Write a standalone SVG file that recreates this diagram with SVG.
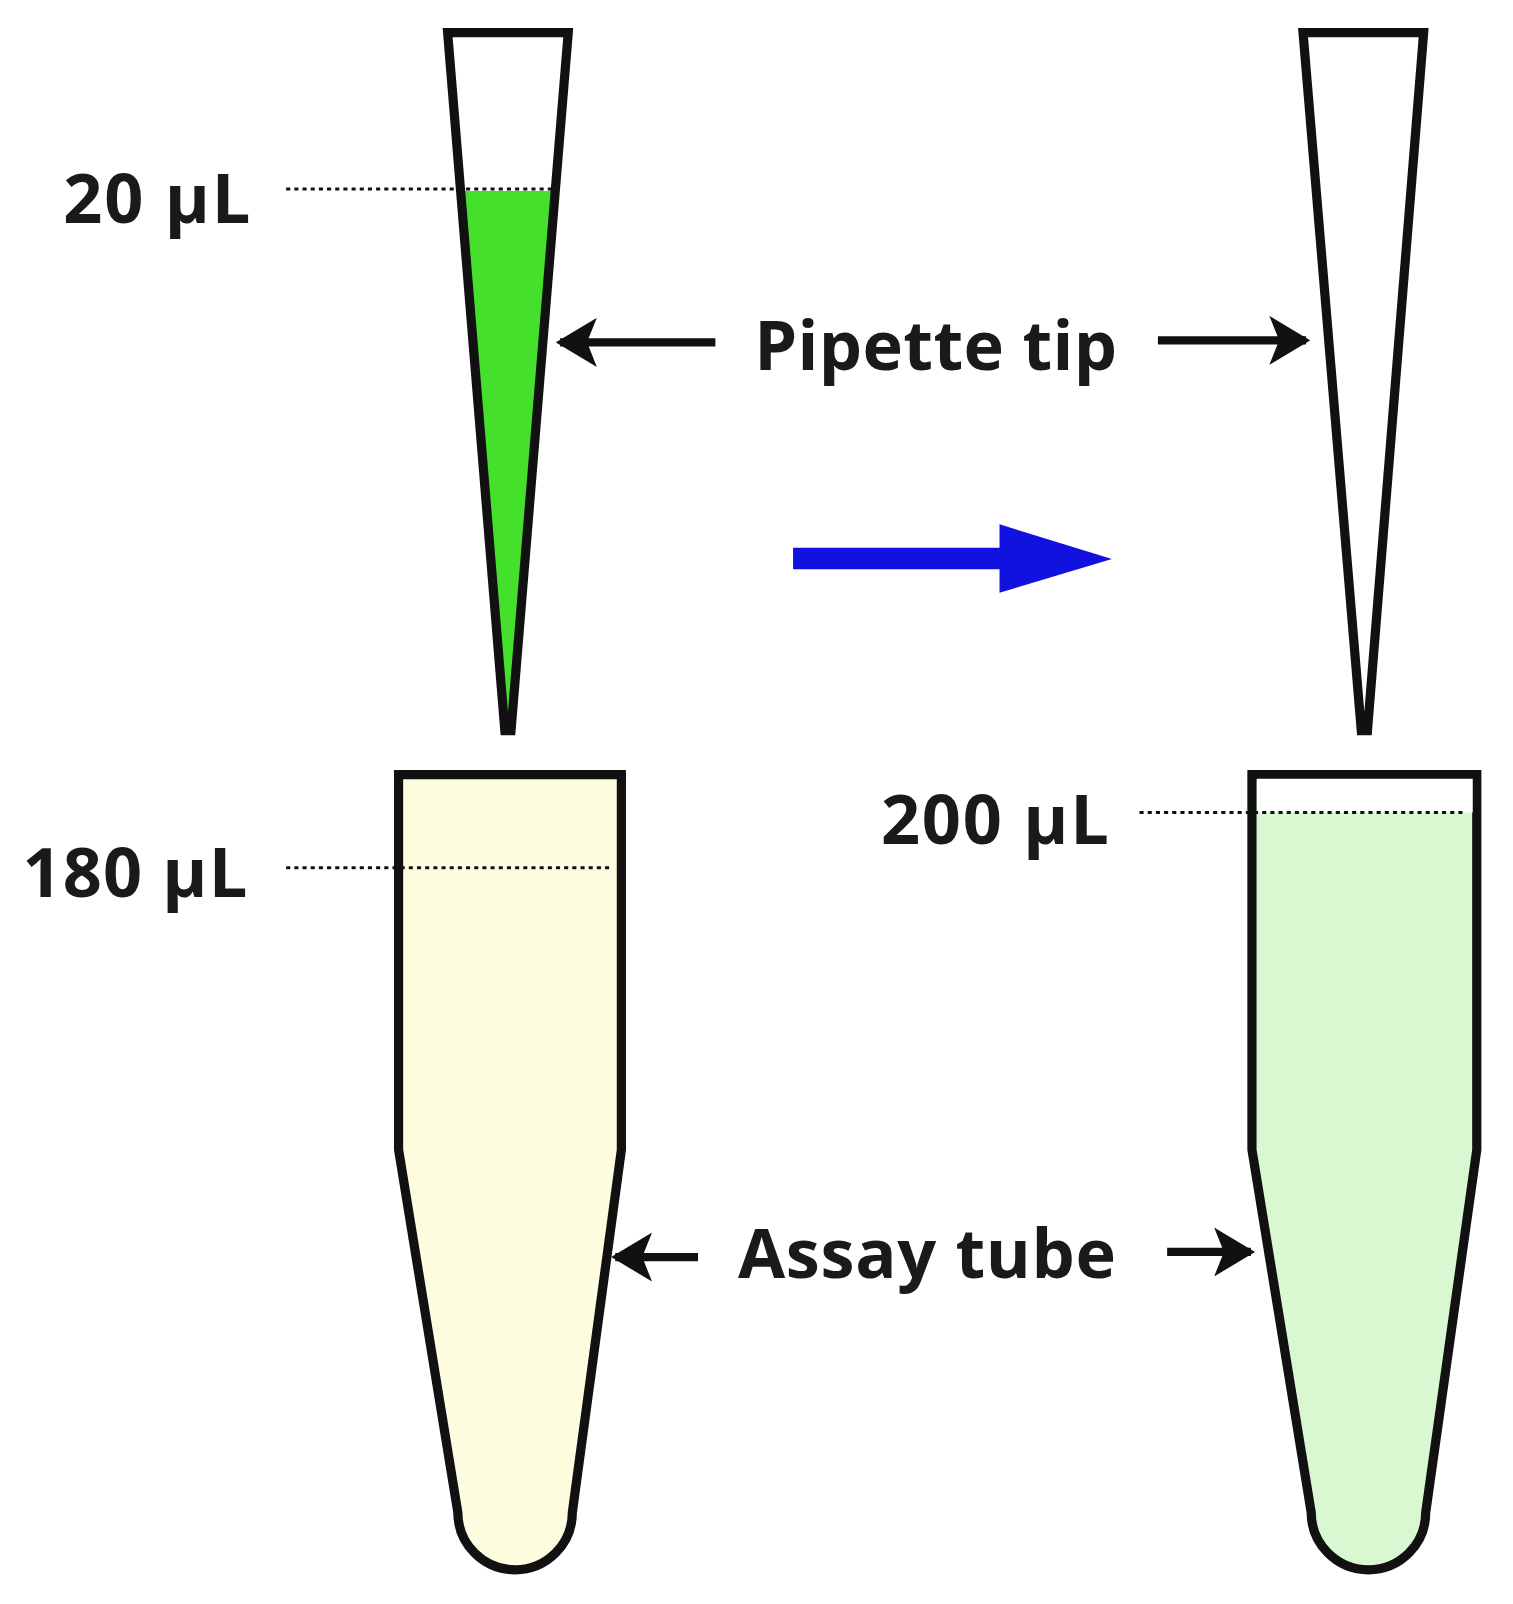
<svg xmlns="http://www.w3.org/2000/svg" width="1513" height="1604" viewBox="0 0 1513 1604">
<style>
.o{stroke:#111;stroke-width:9;stroke-linejoin:miter}
.d{stroke:#111;stroke-width:3;stroke-dasharray:4 4;fill:none}
.t{font-family:"Open Sans","Liberation Sans",sans-serif;font-weight:bold;font-size:67px;fill:#1a1a1a}
.a{stroke:#111;stroke-width:8;fill:none}
</style>
<defs>
<marker id="ah" markerWidth="5" markerHeight="6" refX="4.5" refY="3" orient="auto" markerUnits="strokeWidth">
<path d="M0,0 L5,3 L0,6 L1.2,3 Z" fill="#111"/>
</marker>
</defs>
<rect width="1513" height="1604" fill="#fff"/>
<g transform="scale(1.022)">
<g id="tip-left">
<polygon points="451,187 543,187 500,712 494,712" fill="#44e02c"/>
<polygon points="438,32 556,32 500,715 494,715" fill="none" class="o"/>
<line class="d" x1="280" y1="185" x2="540" y2="185"/>
<text class="t" x="62" y="218" textLength="183">20 µL</text>
</g>
<g id="tip-right">
<polygon class="o" points="1275,32 1393,32 1338,715 1332,715" fill="#fff"/>
</g>
<g id="tube-left">
<path class="o" fill="#fefde0" d="M390,758 H608 V1125 L560,1480 A54,54 0 0 1 448,1480 L390,1125 Z"/>
<line class="d" x1="280" y1="849" x2="598" y2="849"/>
<text class="t" x="22" y="878" textLength="220">180 µL</text>
</g>
<g id="tube-right">
<path class="o" fill="#d9f7d0" d="M1225,758 H1445 V1125 L1395,1480 A54,54 0 0 1 1283,1480 L1225,1125 Z"/>
<path d="M1230,762 H1441 V795 H1230 Z" fill="#fff"/>
<line class="d" x1="1115" y1="795" x2="1432" y2="795"/>
<text class="t" x="862" y="826" textLength="223">200 µL</text>
</g>
<g id="label-pipette"><text class="t" x="738" y="362" textLength="355">Pipette tip</text></g>
<g id="label-tube"><text class="t" x="722" y="1250" textLength="370">Assay tube</text></g>
<g id="connectors">
<line class="a" x1="700" y1="335" x2="548" y2="335" marker-end="url(#ah)"/>
<line class="a" x1="1133" y1="333" x2="1278" y2="333" marker-end="url(#ah)"/>
<line class="a" x1="683" y1="1230" x2="602" y2="1230" marker-end="url(#ah)"/>
<line class="a" x1="1142" y1="1225" x2="1224" y2="1225" marker-end="url(#ah)"/>
<path d="M776,536 H978 V513 L1088,547 L978,580 V557 H776 Z" fill="#1212e0"/>
</g>
</g>
</svg>
